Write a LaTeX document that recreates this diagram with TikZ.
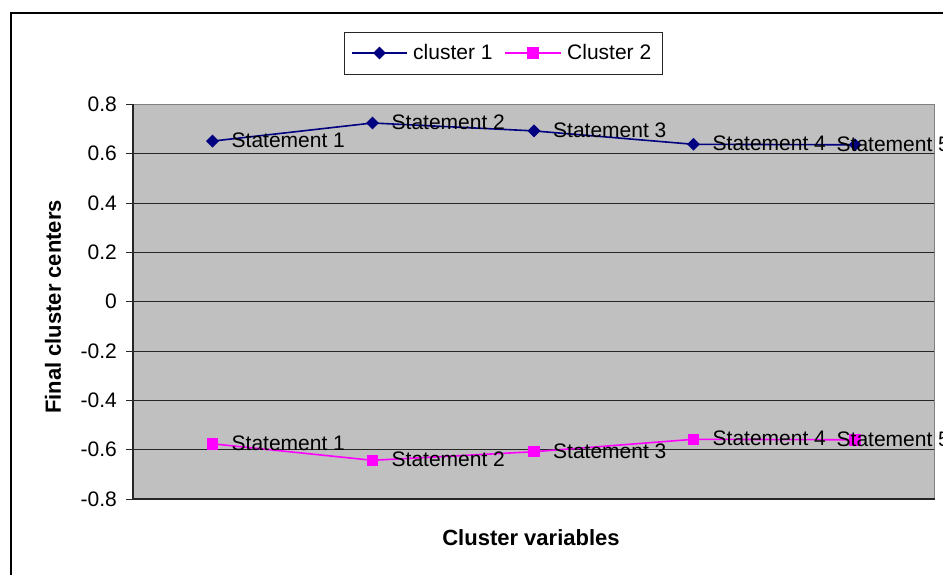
\documentclass[tikz,border=0pt]{standalone}
\usepackage{fontspec}
\setmainfont{Liberation Sans}
\usetikzlibrary{shapes.geometric}
\definecolor{serA}{RGB}{0,0,128}
\definecolor{serB}{RGB}{255,0,255}
\definecolor{plotbg}{RGB}{192,192,192}
\definecolor{plotedge}{RGB}{128,128,128}
\begin{document}
\begin{tikzpicture}[x=1pt,y=-1pt,
  font=\fontsize{21}{25}\selectfont,
  mkA/.style={diamond,fill=serA,inner sep=0pt,minimum width=13pt,minimum height=13pt},
  mkB/.style={rectangle,fill=serB,inner sep=0pt,minimum size=11.5pt},
  lnA/.style={serA,line width=1.6pt},
  lnB/.style={serB,line width=1.6pt},
  ptlabel/.style={anchor=base west,inner sep=0pt},
  ticklabel/.style={anchor=east,inner sep=0pt},
  gridline/.style={black!85,line width=1pt},
  axtitle/.style={font=\fontsize{22}{26}\selectfont\bfseries,inner sep=0pt}]
\useasboundingbox (0,0) rectangle (943,574);
\fill[white] (0,0) rectangle (943,574);
% chart frame (runs off the right and bottom edges)
\draw[line width=2pt] (11,13) rectangle (980,610);

% plot area
\fill[plotbg] (133,104.3) rectangle (934.7,499);
\foreach \yy in {153.6,203.0,252.3,301.7,351.0,400.3,449.6}
  \draw[gridline] (133,\yy) -- (934.7,\yy);
\draw[plotedge,line width=1.4pt] (133,104.3) -- (934.7,104.3) -- (934.7,499);
\draw[black!85,line width=1.2pt] (133,104.3) -- (133,499) -- (934.7,499);

% value axis ticks and labels
\foreach \yy/\lab/\nm in {104.3/0.8/t8,153.6/0.6/t6,203.0/0.4/t4,252.3/0.2/t2,301.7/0/t0,
    351.0/-0.2/tm2,400.3/-0.4/tm4,449.6/-0.6/tm6,499.0/-0.8/tm8}{
  \draw[black!85,line width=1pt] (126,\yy) -- (133,\yy);
  \node[ticklabel] (\nm) at (117,\yy) {\lab};
}

% axis titles
\node[axtitle,rotate=90] (ytitle) at (53,307) {Final cluster centers};
\node[axtitle] (xtitle) at (531,538) {Cluster variables};

% series: cluster 1
\node[mkA] (a1) at (212.5,141.1) {};
\node[mkA] (a2) at (372.5,123.0) {};
\node[mkA] (a3) at (534.0,130.9) {};
\node[mkA] (a4) at (693.5,144.3) {};
\node[mkA] (a5) at (855.0,144.8) {};
\draw[lnA] (a1.center) -- (a2.center) -- (a3.center) -- (a4.center) -- (a5.center);

% series: cluster 2
\node[mkB] (b1) at (212.5,443.8) {};
\node[mkB] (b2) at (372.5,460.3) {};
\node[mkB] (b3) at (534.0,451.7) {};
\node[mkB] (b4) at (693.5,439.3) {};
\node[mkB] (b5) at (855.0,439.8) {};
\draw[lnB] (b1.center) -- (b2.center) -- (b3.center) -- (b4.center) -- (b5.center);

% data labels (the last one is pulled left over its marker)
\foreach \p/\k in {a1/1,a2/2,a3/3,a4/4,b1/1,b2/2,b3/3,b4/4}
  \node[ptlabel] (l\p) at ([xshift=19pt,yshift=-6.5pt]\p.center) {Statement \k};
\foreach \p in {a5,b5}
  \node[ptlabel] (l\p) at ([xshift=-18.5pt,yshift=-6.5pt]\p.center) {Statement 5};

% legend
\draw[black!85,line width=1pt] (344,32.3) rectangle (662,74);
\coordinate (ga0) at (352,53);
\coordinate (ga1) at (407,53);
\draw[lnA] (ga0) -- (ga1);
\node[mkA] (gam) at (379.5,53) {};
\node[ptlabel] (gat) at (413,59.5) {cluster 1};
\coordinate (gb0) at (505,53);
\coordinate (gb1) at (561,53);
\draw[lnB] (gb0) -- (gb1);
\node[mkB] (gbm) at (533,53) {};
\node[ptlabel] (gbt) at (567,59.5) {Cluster 2};
\end{tikzpicture}
\end{document}
